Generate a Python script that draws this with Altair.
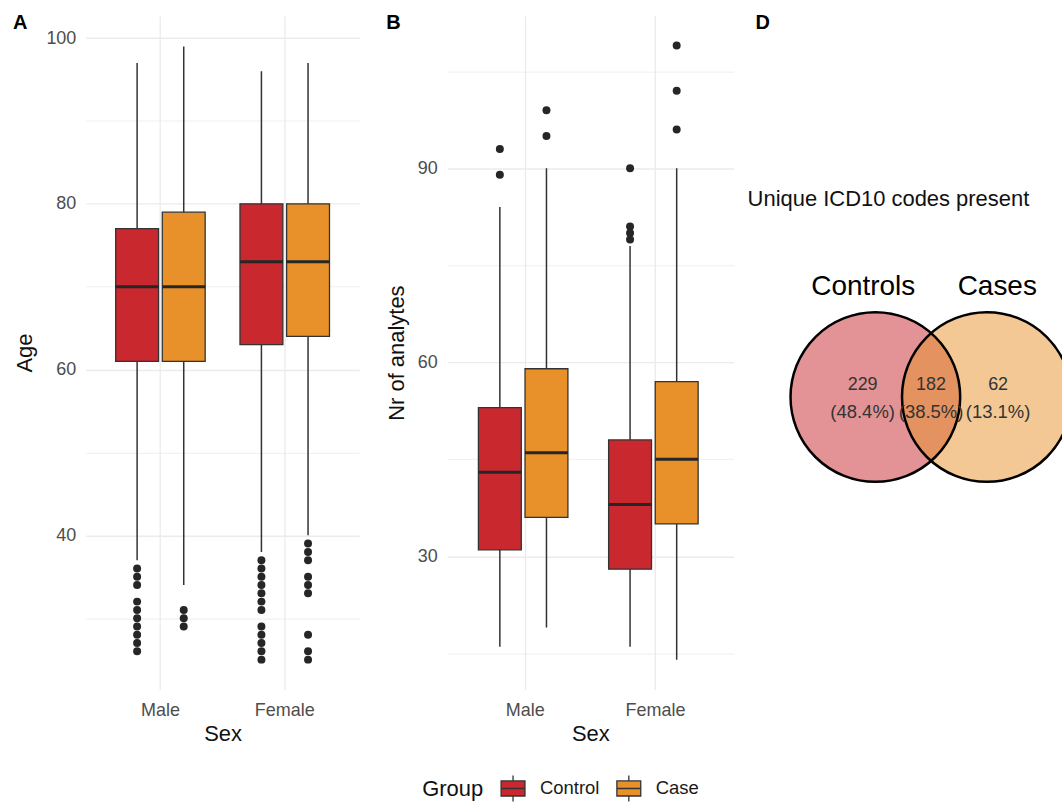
import altair as alt
import pandas as pd

# ---------------- data ----------------
sex = ["Male", "Male", "Female", "Female"]
group = ["Control", "Case", "Control", "Case"]
sex_order = ["Male", "Female"]
group_order = ["Control", "Case"]

age_whisker_low = [37, 34, 38, 40]
age_q1 = [61, 61, 63, 64]
age_median = [70, 70, 73, 73]
age_q3 = [77, 79, 80, 80]
age_whisker_high = [97, 99, 96, 97]
age_outliers = [
    [36, 35, 34, 32, 31, 30, 29, 28, 27, 26],
    [31, 30, 29],
    [37, 36, 35, 34, 33, 32, 31, 29, 28, 27, 26, 25],
    [39, 38, 37, 35, 34, 33, 28, 26, 25],
]
age_ticks = [30, 40, 50, 60, 70, 80, 90, 100]

an_whisker_low = [16, 19, 16, 14]
an_q1 = [31, 36, 28, 35]
an_median = [43, 46, 38, 45]
an_q3 = [53, 59, 48, 57]
an_whisker_high = [84, 90, 78, 90]
an_outliers = [[93, 89], [99, 95], [90, 81, 80, 79], [109, 102, 96]]
an_ticks = [15, 30, 45, 60, 75, 90, 105]

venn_sets = ["Controls", "Cases"]
venn_counts = [229, 182, 62]
venn_percent = ["(48.4%)", "(38.5%)", "(13.1%)"]

# ---------------- style / layout ----------------
RED = "#C8282E"
ORANGE = "#E8912B"
LINE = "#333333"
FONT = "Liberation Sans"
PANEL_H = 675
TICK_FS = 18
TITLE_FS = 22

legend_symbol = "M-0.92,-0.58H0.92V0.58H-0.92Z M-0.92,0H0.92 M0,-0.58V-1 M0,0.58V1"

color_enc = alt.Color(
    "Group:N",
    sort=group_order,
    scale=alt.Scale(domain=group_order, range=[RED, ORANGE]),
    legend=alt.Legend(
        title="Group", orient="none", legendX=337, legendY=760,
        direction="horizontal", titleOrient="left", titleFontSize=22,
        titleFontWeight="normal", titleColor="#111111", titlePadding=15,
        labelFontSize=18.5, labelColor="#1a1a1a", labelOffset=13,
        columnPadding=14, symbolType=legend_symbol, symbolSize=676,
        symbolStrokeColor=LINE, symbolStrokeWidth=1.3, symbolOpacity=1,
    ),
)


def box_panel(lo, q1, med, q3, hi, outs, ticks, major_mod, domain, ytitle,
              width, letter, letter_x, extra_right):
    stats = pd.DataFrame(dict(Sex=sex, Group=group, lo=lo, q1=q1, med=med,
                              q3=q3, hi=hi))
    out_rows = [dict(Sex=s, Group=g, v=v) for s, g, o in zip(sex, group, outs) for v in o]
    out_df = pd.DataFrame(out_rows)

    xenc = alt.X(
        "Sex:N", sort=sex_order,
        scale=alt.Scale(paddingInner=0.28, paddingOuter=0.24),
        axis=alt.Axis(title="Sex", labelAngle=0, domain=False, ticks=False,
                      tickSize=0, grid=True, gridColor="#EBEBEB", gridWidth=1.3,
                      bandPosition=0.5, labelPadding=12, titlePadding=4,
                      labelFontSize=TICK_FS, labelColor="#4D4D4D",
                      titleFontSize=TITLE_FS, titleFontWeight="normal",
                      titleColor="#111111"),
    )
    xoff = alt.XOffset("Group:N", sort=group_order,
                       scale=alt.Scale(paddingInner=0.08, paddingOuter=0))
    yscale = alt.Scale(domain=domain, nice=False, zero=False)
    yaxis = alt.Axis(
        title=ytitle, values=ticks,
        labelExpr=f"datum.value % {major_mod} === 0 ? datum.label : ''",
        domain=False, ticks=False, tickSize=0, grid=True, gridColor="#EBEBEB",
        gridWidth={"condition": {"test": f"datum.value % {major_mod} === 0", "value": 1.4},
                   "value": 0.8},
        labelPadding=10, titlePadding=9, labelFontSize=TICK_FS, labelColor="#4D4D4D",
        titleFontSize=TITLE_FS, titleFontWeight="normal", titleColor="#111111",
    )

    def Y(f):
        return alt.Y(f, scale=yscale, axis=yaxis)

    base = alt.Chart(stats)
    whisk = base.mark_rule(color=LINE, strokeWidth=1.5).encode(
        x=xenc, xOffset=xoff, y=Y("lo:Q"), y2="hi:Q")
    boxes = base.mark_bar(stroke=LINE, strokeWidth=1.3, opacity=1).encode(
        x=xenc, xOffset=xoff, y=Y("q1:Q"), y2="q3:Q", color=color_enc)
    meds = base.mark_tick(color="#262626", thickness=3, size=43, opacity=1).encode(
        x=xenc, xOffset=xoff, y=Y("med:Q"))
    pts = alt.Chart(out_df).mark_circle(size=64, color="#262626", opacity=1).encode(
        x=xenc, xOffset=xoff, y=Y("v:Q"))
    lab = alt.Chart(pd.DataFrame({"t": [letter]})).mark_text(
        fontSize=20, fontWeight="bold", align="left", baseline="top",
        color="black").encode(text="t:N", x=alt.value(letter_x), y=alt.value(-3))
    layers = [whisk, boxes, meds, pts, lab]
    if extra_right:
        spacer = alt.Chart(pd.DataFrame({"t": [0]})).mark_rule(
            strokeOpacity=0, strokeWidth=1).encode(
            x=alt.value(width + extra_right), y=alt.value(0), y2=alt.value(1))
        layers.append(spacer)
    return alt.layer(*layers).properties(width=width, height=PANEL_H)


panel_a = box_panel(age_whisker_low, age_q1, age_median, age_q3, age_whisker_high,
                    age_outliers, age_ticks, 20, [21.4, 102.7], "Age",
                    274, "A", -73, 11)
panel_b = box_panel(an_whisker_low, an_q1, an_median, an_q3, an_whisker_high,
                    an_outliers, an_ticks, 30, [9.4, 113.6], "Nr of analytes",
                    287, "B", -61, 0)

# ---------------- Venn panel ----------------
D_W = 315
R = 85  # circle radius in px
circle_cx = [-0.657, 0.657]
set_label_x = [-0.80, 0.78]
set_label_y = 1.294
region_x = [-0.807, 0.0, 0.79]
count_y = 0.14
pct_y = -0.18
mid_px = 183.85
center_px_y = 382

xs = alt.Scale(domain=[-mid_px / R, (D_W - mid_px) / R], nice=False, zero=False)
ys = alt.Scale(domain=[-(PANEL_H - center_px_y) / R, center_px_y / R], nice=False, zero=False)

circ_df = pd.DataFrame({"set": venn_sets, "cx": circle_cx, "cy": [0, 0],
                        "fill": [RED, ORANGE]})
fills = alt.Chart(circ_df).mark_circle(
    size=(2 * R) ** 2, opacity=1, fillOpacity=0.5, strokeWidth=0, clip=True
).encode(x=alt.X("cx:Q", scale=xs, axis=None),
         y=alt.Y("cy:Q", scale=ys, axis=None),
         color=alt.Color("fill:N", scale=None))
outlines = alt.Chart(circ_df).mark_point(
    shape="circle", size=(2 * R) ** 2, filled=False, color="black",
    strokeWidth=2.5, opacity=1, clip=True
).encode(x=alt.X("cx:Q", scale=xs, axis=None),
         y=alt.Y("cy:Q", scale=ys, axis=None))

set_df = pd.DataFrame({"set": venn_sets, "x": set_label_x, "y": [set_label_y] * 2})
set_text = alt.Chart(set_df).mark_text(fontSize=28, color="black").encode(
    x=alt.X("x:Q", scale=xs, axis=None), y=alt.Y("y:Q", scale=ys, axis=None),
    text="set:N")

reg_df = pd.DataFrame({"count": [str(c) for c in venn_counts], "pct": venn_percent,
                       "x": region_x, "cy": [count_y] * 3, "py": [pct_y] * 3})
count_text = alt.Chart(reg_df).mark_text(fontSize=18, color="#333333").encode(
    x=alt.X("x:Q", scale=xs, axis=None), y=alt.Y("cy:Q", scale=ys, axis=None),
    text="count:N")
pct_text = alt.Chart(reg_df).mark_text(fontSize=18.5, color="#333333").encode(
    x=alt.X("x:Q", scale=xs, axis=None), y=alt.Y("py:Q", scale=ys, axis=None),
    text="pct:N")

title_text = alt.Chart(pd.DataFrame({"t": ["Unique ICD10 codes present"]})).mark_text(
    fontSize=22, align="left", baseline="middle", color="#111111").encode(
    text="t:N", x=alt.value(0), y=alt.value(184))
d_text = alt.Chart(pd.DataFrame({"t": ["D"]})).mark_text(
    fontSize=20, fontWeight="bold", align="left", baseline="top",
    color="black").encode(text="t:N", x=alt.value(8), y=alt.value(-3))

panel_d = alt.layer(fills, outlines, set_text, count_text, pct_text, title_text,
                    d_text).properties(width=D_W, height=PANEL_H)

chart = alt.hconcat(panel_a, panel_b, panel_d, spacing=14).properties(
    padding={"left": 13, "top": 12, "right": 0, "bottom": 5}
).configure(font=FONT).configure_view(stroke=None)

chart.save("out.html", embed_options={"renderer": "svg", "actions": False})
